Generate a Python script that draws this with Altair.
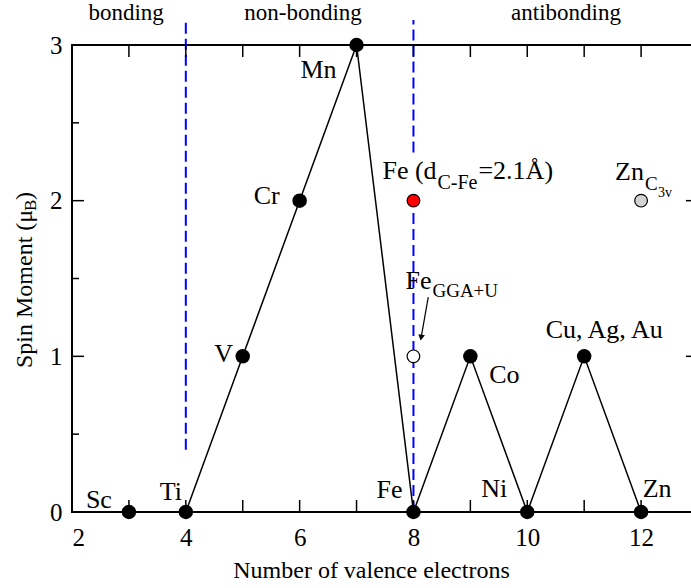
import altair as alt
import pandas as pd

FONT = "Liberation Serif"

# ---- data -------------------------------------------------------------
elements = ["Sc", "Ti", "V", "Cr", "Mn", "Fe", "Co", "Ni", "Cu, Ag, Au", "Zn"]
valence = [3, 4, 5, 6, 7, 8, 9, 10, 11, 12]
moment = [0, 0, 1, 2, 3, 0, 1, 0, 1, 0]

# label offsets (pixels) from each point
label_dx = [-30, -15, -19, -33, -38, -24, 34, -33, 20, 16]
label_dy = [-4, -12, 6, 3, 33, -14, 27, -15, -18, -15]

# extra single calculations
extra_name = ["Fe_d", "Fe_U", "Zn_C3v"]
extra_x = [8, 8, 12]
extra_y = [2, 1, 2]
extra_fill = ["#ff0000", "#ffffff", "#d3d3d3"]

# region headings
region_names = ["bonding", "non-bonding", "antibonding"]
region_x = [2.95, 6.06, 10.68]

x_ticks = list(range(3, 13))
x_labels = [2, 4, 6, 8, 10, 12]
y_major = [1, 2]
y_minor = [0.5, 1.5, 2.5]
y_labels = [0, 1, 2, 3]

W, H = 626, 467
x_scale = alt.Scale(domain=[2, 13], nice=False, zero=False)
y_scale = alt.Scale(domain=[0, 3], nice=False, zero=False)

AX = alt.Axis(values=x_labels, ticks=False, tickSize=0, domain=False, grid=False,
              labelFont=FONT, labelFontSize=25, labelPadding=13, labelColor="black",
              title="Number of valence electrons", titleFont=FONT, titleFontSize=24,
              titleFontWeight="normal", titleColor="black", titlePadding=8, titleX=299)
AY = alt.Axis(values=y_labels, ticks=False, tickSize=0, domain=False, grid=False,
              labelFont=FONT, labelFontSize=25, labelPadding=10, labelColor="black",
              title=None)


def X(field="x"):
    return alt.X(f"{field}:Q", scale=x_scale, axis=AX)


def Y(field="y"):
    return alt.Y(f"{field}:Q", scale=y_scale, axis=AY)


main = pd.DataFrame({"x": valence, "y": moment, "el": elements})

line = alt.Chart(main).mark_line(color="black", strokeWidth=1.5).encode(x=X(), y=Y())

# tick marks drawn inward on all four sides
xt = pd.DataFrame({"x": x_ticks})
ticks = [
    alt.Chart(xt).mark_rule(color="black", strokeWidth=1.5).encode(x=X(), y=alt.value(H), y2=alt.value(H - 12)),
    alt.Chart(xt).mark_rule(color="black", strokeWidth=1.5).encode(x=X(), y=alt.value(0), y2=alt.value(12)),
]
for vals, ln in ((y_major, 12), (y_minor, 7)):
    yt = pd.DataFrame({"y": vals})
    ticks.append(alt.Chart(yt).mark_rule(color="black", strokeWidth=1.5).encode(y=Y(), x=alt.value(0), x2=alt.value(ln)))
    ticks.append(alt.Chart(yt).mark_rule(color="black", strokeWidth=1.5).encode(y=Y(), x=alt.value(W), x2=alt.value(W - ln)))

# dashed region boundaries
bnd = pd.DataFrame({"x": [4, 8, 8], "y": [0.4, 0.0, 2.31], "y2": [3.16, 1.93, 3.16]})
bounds = alt.Chart(bnd).mark_rule(color="#0000ff", strokeWidth=2, strokeDash=[11, 5]).encode(
    x=X(), y=Y(), y2="y2:Q")

pts = alt.Chart(main).mark_point(filled=True, color="black", size=210, opacity=1, shape="circle").encode(x=X(), y=Y())

labels = []
for el, vx, vy, dx, dy in zip(elements, valence, moment, label_dx, label_dy):
    labels.append(alt.Chart(pd.DataFrame({"x": [vx], "y": [vy]})).mark_text(
        text=el, font=FONT, fontSize=26, align="center", baseline="alphabetic", dx=dx, dy=dy, color="black"
    ).encode(x=X(), y=Y()))

extra = pd.DataFrame({"x": extra_x, "y": extra_y, "fill": extra_fill, "name": extra_name})
extra_pts = alt.Chart(extra).mark_point(shape="circle", size=160, stroke="black", strokeWidth=1.2, opacity=1, fillOpacity=1).encode(
    x=X(), y=Y(), fill=alt.Fill("fill:N", scale=None))


def rich(px, py, pieces):
    src = pd.DataFrame({"x": [px], "y": [py]})
    out = []
    for text, size, dx, dy in pieces:
        out.append(alt.Chart(src).mark_text(text=text, font=FONT, fontSize=size, align="left",
                                             baseline="alphabetic", dx=dx, dy=dy, color="black")
                   .encode(x=X(), y=Y()))
    return out


rich_labels = []
rich_labels += rich(extra_x[0], extra_y[0], [("Fe (d", 26, -31, -22), ("C-Fe", 20, 24, -12), ("=2.1Å)", 26, 65, -22)])
rich_labels += rich(extra_x[2], extra_y[2], [("Zn", 26, -26, -21), ("C", 19, 4, -11), ("3v", 14, 17, -4)])
rich_labels += rich(extra_x[1], extra_y[1], [("Fe", 26, -8, -67), ("GGA+U", 19, 19, -59)])

# arrow pointing at the GGA+U point
arr = pd.DataFrame({"x": [8.26], "y": [1.38], "x2": [8.135], "y2": [1.12]})
arrow_line = alt.Chart(arr).mark_rule(color="black", strokeWidth=1.2).encode(x=X(), y=Y(), x2="x2:Q", y2="y2:Q")
arrow_head = alt.Chart(arr).mark_point(shape="triangle-down", filled=True, color="black", size=45, angle=10, opacity=1).encode(
    x=X("x2"), y=Y("y2"))

reg = pd.DataFrame({"x": region_x, "name": region_names})
regions = alt.Chart(reg).mark_text(font=FONT, fontSize=23, align="center", baseline="alphabetic", color="black").encode(
    x=X(), y=alt.value(-25), text="name:N")

# y-axis title with subscript
one = pd.DataFrame({"a": [0]})
ytitle = []
for text, size, dx, dy in (("Spin Moment (μ", 24, 0, 0), ("B", 17, 157, 6), (")", 24, 168, 0)):
    ytitle.append(alt.Chart(one).mark_text(text=text, font=FONT, fontSize=size, angle=270, align="left",
                                            baseline="middle", dx=dx, dy=dy, color="black")
                  .encode(x=alt.value(-47), y=alt.value(323)))

chart = alt.layer(
    bounds, *ticks, line, pts, extra_pts, arrow_line, arrow_head, *labels, *rich_labels, regions, *ytitle
).properties(
    width=W, height=H,
    autosize=alt.AutoSizeParams(type="none"),
    padding={"left": 72, "top": 45, "right": -7, "bottom": 76},
).configure(background="white").configure_view(stroke="black", strokeWidth=2)

chart.save("out.html", embed_options={"renderer": "svg", "actions": False})
